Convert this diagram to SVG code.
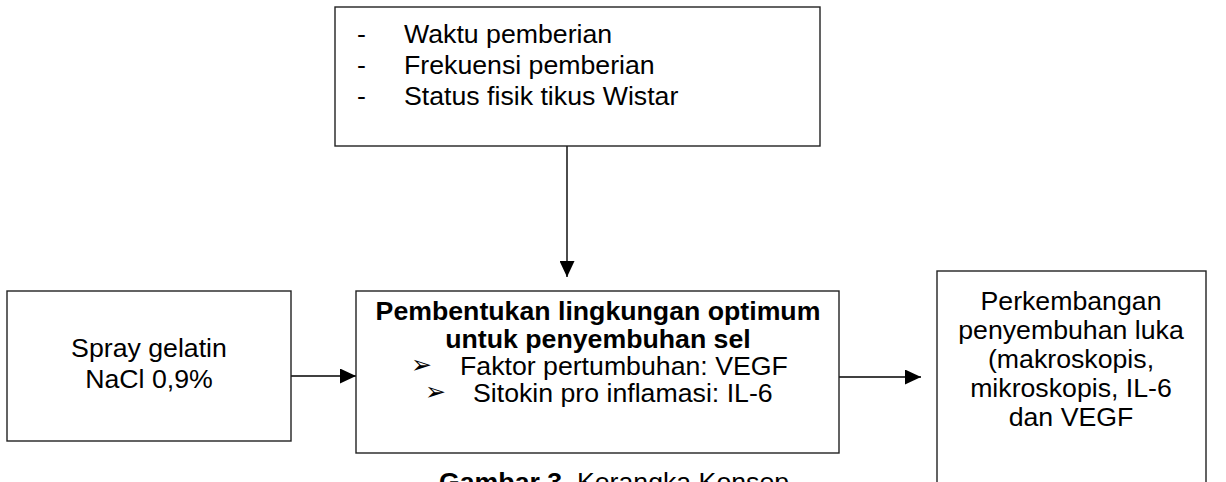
<svg xmlns="http://www.w3.org/2000/svg" width="1226" height="482" viewBox="0 0 1226 482">
<style>
.box{fill:#fff;stroke:#222;stroke-width:1.4}
.t{font-family:"Liberation Sans",Arial,sans-serif;font-size:26.7px;fill:#000}
.b{font-weight:bold}
.c{text-anchor:middle}
.ln{stroke:#000;stroke-width:1.4;fill:none}
.bul{font-family:"DejaVu Sans",sans-serif;font-size:25px;fill:#000}
</style>
<defs>
<marker id="ah" viewBox="0 0 16 15" refX="16" refY="7.5" markerWidth="16" markerHeight="15" markerUnits="userSpaceOnUse" orient="auto">
<path d="M0,0 L16,7.5 L0,15 Z" fill="#000"/>
</marker>
</defs>
<rect width="1226" height="482" fill="#fff"/>
<g id="connectors">
<line class="ln" x1="567" y1="146" x2="567" y2="277" marker-end="url(#ah)"/>
<line class="ln" x1="291" y1="376" x2="356" y2="376" marker-end="url(#ah)"/>
<line class="ln" x1="839" y1="377" x2="921" y2="377" marker-end="url(#ah)"/>
</g>
<g id="faktor">
<rect class="box" x="335" y="7" width="485" height="139"/>
<text class="t" x="357" y="43">-</text>
<text class="t" x="404" y="43">Waktu pemberian</text>
<text class="t" x="357" y="74">-</text>
<text class="t" x="404" y="74">Frekuensi pemberian</text>
<text class="t" x="357" y="105">-</text>
<text class="t" x="404" y="105">Status fisik tikus Wistar</text>
</g>
<g id="spray">
<rect class="box" x="7" y="291" width="284" height="150"/>
<text class="t c" x="149" y="357">Spray gelatin</text>
<text class="t c" x="149" y="388">NaCl 0,9%</text>
</g>
<g id="pembentukan">
<rect class="box" x="356" y="291" width="483" height="162"/>
<text class="t b c" x="598" y="320">Pembentukan lingkungan optimum</text>
<text class="t b c" x="598" y="348">untuk penyembuhan sel</text>
<text class="bul" x="411" y="373">➢</text>
<text class="t" x="460" y="375">Faktor pertumbuhan: VEGF</text>
<text class="bul" x="425" y="400">➢</text>
<text class="t" x="473" y="402">Sitokin pro inflamasi: IL-6</text>
</g>
<g id="perkembangan">
<rect class="box" x="937" y="271" width="269" height="230"/>
<text class="t c" x="1071" y="310">Perkembangan</text>
<text class="t c" x="1071" y="339">penyembuhan luka</text>
<text class="t c" x="1071" y="368">(makroskopis,</text>
<text class="t c" x="1071" y="397">mikroskopis, IL-6</text>
<text class="t c" x="1071" y="426">dan VEGF</text>
</g>
<g id="caption">
<text class="t" x="439" y="491"><tspan class="b">Gambar 3.</tspan> Kerangka Konsep</text>
</g>
</svg>
